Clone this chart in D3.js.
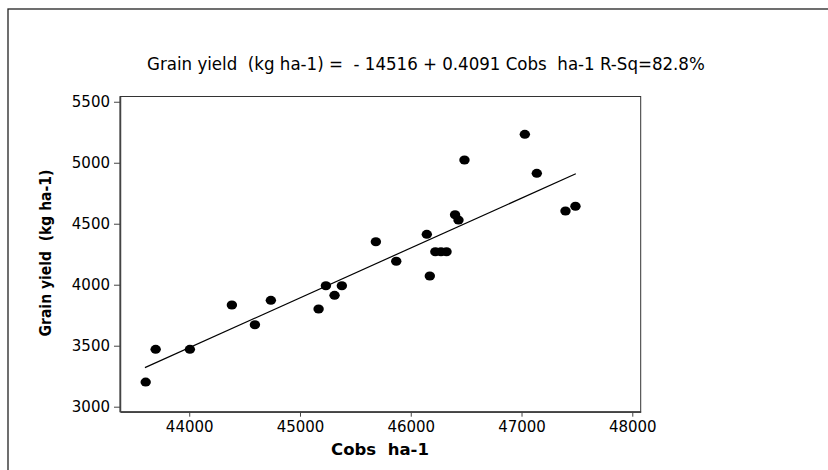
<!DOCTYPE html>
<html>
<head>
<meta charset="utf-8">
<script src="https://cdn.jsdelivr.net/npm/d3@7"></script>
<style>
  body { margin: 0; background: #fff; }
  svg text { fill: #000; }
</style>
</head>
<body>
<div id="chart"></div>
<script>
// cobs per ha vs grain yield
var cobs = [43607, 43697, 44006, 44385, 44593, 44737, 45168, 45234, 45312, 45378,
            45685, 45869, 46172, 46145, 46222, 46273, 46323, 46400, 46431, 46485,
            47030, 47138, 47397, 47487];
var grainYield = [3202, 3470, 3470, 3834, 3672, 3872, 3801, 3992, 3913, 3992,
                  4352, 4192, 4071, 4413, 4270, 4270, 4270, 4574, 4530, 5022,
                  5233, 4913, 4604, 4643];
// ends of the fitted line
var fitX = [43600, 47490];
var fitY = [3320, 4910];
var xTicks = [44000, 45000, 46000, 47000, 48000];
var yTicks = [3000, 3500, 4000, 4500, 5000, 5500];
var title = "Grain yield  (kg ha-1) =  - 14516 + 0.4091 Cobs  ha-1 R-Sq=82.8%";

var width = 828, height = 470;
var svg = d3.select("#chart").append("svg")
  .attr("width", width).attr("height", height);

// outer frame
svg.append("rect")
  .attr("x", 8).attr("y", 9).attr("width", 840).attr("height", 480)
  .attr("fill", "none").attr("stroke", "#222").attr("stroke-width", 1.3);

var pLeft = 120, pRight = 640.7, pTop = 96.5, pBottom = 411.7;

var xScale = d3.scaleLinear().domain([43375, 48076]).range([pLeft, pRight]);
var yScale = d3.scaleLinear().domain([2959, 5543]).range([pBottom, pTop]);

// plot box
svg.append("rect")
  .attr("x", pLeft).attr("y", pTop)
  .attr("width", pRight - pLeft).attr("height", pBottom - pTop)
  .attr("fill", "none").attr("stroke", "#333").attr("stroke-width", 1);

var xAxis = d3.axisBottom(xScale).tickValues(xTicks).tickFormat(d3.format("d"))
  .tickSizeInner(5).tickSizeOuter(0).tickPadding(5);
var yAxis = d3.axisLeft(yScale).tickValues(yTicks).tickFormat(d3.format("d"))
  .tickSizeInner(6).tickSizeOuter(0).tickPadding(4);

var gx = svg.append("g").attr("transform", "translate(0," + pBottom + ")").call(xAxis);
var gy = svg.append("g").attr("transform", "translate(" + pLeft + ",0)").call(yAxis);
[gx, gy].forEach(function(g) {
  g.select(".domain").attr("stroke", "#444").attr("stroke-width", 1.5);
  g.selectAll(".tick line").attr("stroke", "#444");
  g.selectAll(".tick text")
    .attr("font-family", "DejaVu Sans, Verdana, sans-serif")
    .attr("font-size", 15).attr("fill", "#000");
});

// fitted line
var line = d3.line()
  .x(function(d) { return xScale(d[0]); })
  .y(function(d) { return yScale(d[1]); });
svg.append("path")
  .datum(d3.zip(fitX, fitY))
  .attr("d", line)
  .attr("fill", "none").attr("stroke", "#000").attr("stroke-width", 1.2);

// points
svg.selectAll("ellipse.pt").data(d3.zip(cobs, grainYield)).enter()
  .append("ellipse").attr("class", "pt")
  .attr("cx", function(d) { return xScale(d[0]); })
  .attr("cy", function(d) { return yScale(d[1]); })
  .attr("rx", 5.2).attr("ry", 4.5)
  .attr("fill", "#000");

// title
svg.append("text")
  .attr("x", 147).attr("y", 70)
  .attr("font-family", "DejaVu Sans Condensed, Tahoma, sans-serif")
  .attr("font-size", 18.5)
  .style("white-space", "pre")
  .text(title);

// axis titles
svg.append("text")
  .attr("x", 380).attr("y", 455)
  .attr("text-anchor", "middle")
  .attr("font-family", "DejaVu Sans, Verdana, sans-serif")
  .attr("font-weight", "bold").attr("font-size", 16.5)
  .style("white-space", "pre")
  .text("Cobs  ha-1");

svg.append("text")
  .attr("transform", "translate(51,253) rotate(-90)")
  .attr("text-anchor", "middle")
  .attr("font-family", "DejaVu Sans Condensed, Tahoma, sans-serif")
  .attr("font-weight", "bold").attr("font-size", 15.5)
  .style("white-space", "pre")
  .text("Grain yield  (kg ha-1)");
</script>
</body>
</html>
